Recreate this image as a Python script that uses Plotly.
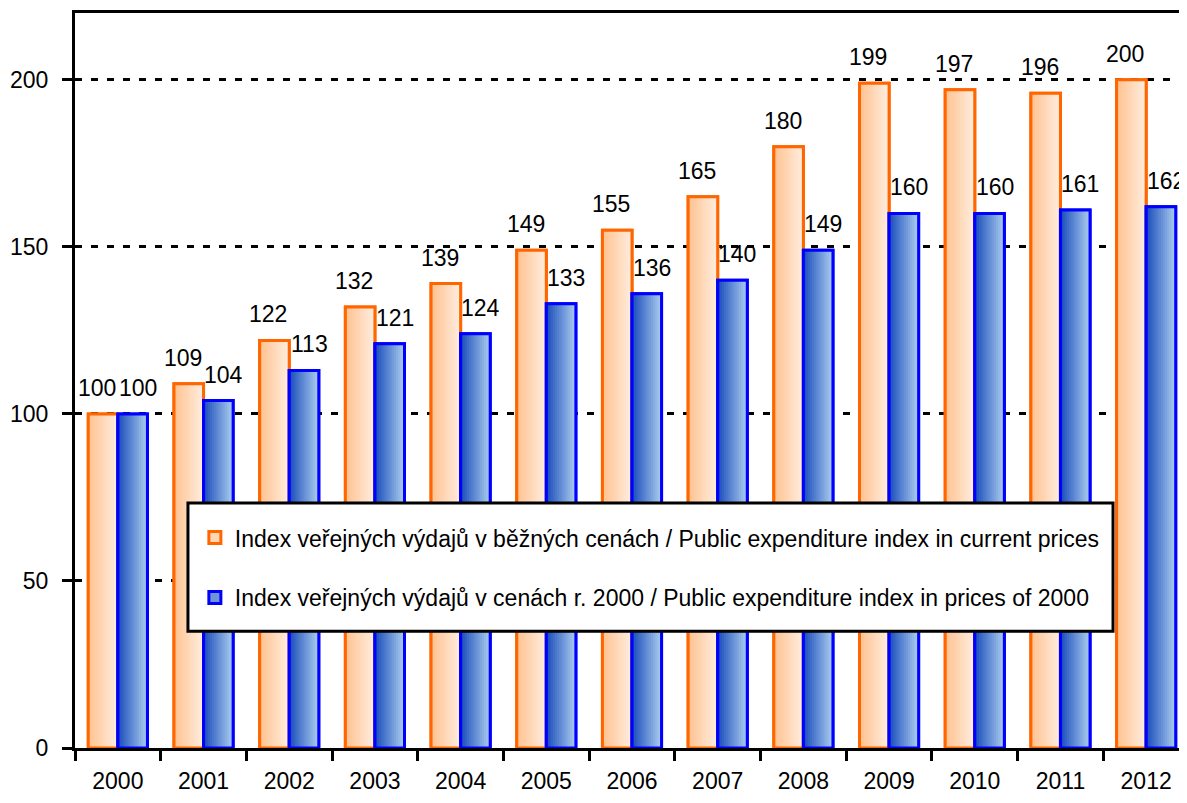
import plotly.graph_objects as go

years = ["2000", "2001", "2002", "2003", "2004", "2005", "2006",
         "2007", "2008", "2009", "2010", "2011", "2012"]
current_prices = [100, 109, 122, 132, 139, 149, 155, 165, 180, 199, 197, 196, 200]
prices_2000 = [100, 104, 113, 121, 124, 133, 136, 140, 149, 160, 160, 161, 162]

name_current = "Index veřejných výdajů v běžných cenách / Public expenditure index in current prices"
name_2000 = "Index veřejných výdajů v cenách r. 2000 / Public expenditure index in prices of 2000"

FONT = "Liberation Sans Narrow, Arial Narrow, Liberation Sans, Arial, sans-serif"

BAR_W = 0.345
N_SLICES = 14
CAT_PX = 1114 / 13


def lerp(c1, c2, t):
    return "rgb({},{},{})".format(*[round(a + (b - a) * t) for a, b in zip(c1, c2)])


series = [
    dict(name=name_current, values=current_prices, offset=-BAR_W,
         c_left=(255, 196, 146), c_right=(255, 236, 222), border="#FF6600",
         mid="#FFD7B5", group="a", label_shift=-6),
    dict(name=name_2000, values=prices_2000, offset=0.0,
         c_left=(30, 80, 188), c_right=(168, 202, 238), border="#0000FF",
         mid="#6E95D8", group="b", label_shift=5),
]

fig = go.Figure()

for s in series:
    fig.add_trace(go.Bar(
        x=years, y=s["values"], name=s["name"], width=BAR_W, offset=s["offset"],
        marker=dict(color=s["mid"], line=dict(color=s["border"], width=3)),
        legendgroup=s["group"], showlegend=True, hoverinfo="skip"))
    step = BAR_W / N_SLICES
    for i in range(N_SLICES):
        t = i / (N_SLICES - 1)
        w = min(step * 1.6, BAR_W - i * step)
        fig.add_trace(go.Bar(
            x=years, y=s["values"], width=w, offset=s["offset"] + i * step,
            marker=dict(color=lerp(s["c_left"], s["c_right"], t), line=dict(width=0)),
            legendgroup=s["group"], showlegend=False, hoverinfo="skip"))
    fig.add_trace(go.Bar(
        x=years, y=s["values"], width=BAR_W, offset=s["offset"],
        marker=dict(color="rgba(0,0,0,0)", line=dict(color=s["border"], width=3)),
        legendgroup=s["group"], showlegend=False, hoverinfo="skip"))

annotations = []
for s in series:
    for idx, v in enumerate(s["values"]):
        annotations.append(dict(
            x=idx, y=v, xref="x", yref="y", text=str(v), showarrow=False,
            yanchor="bottom", xanchor="center",
            xshift=(s["offset"] + BAR_W / 2) * CAT_PX + s["label_shift"],
            yshift=11, font=dict(family=FONT, size=23, color="black")))

fig.update_layout(
    width=1187, height=803,
    margin=dict(l=67, r=6, t=5, b=63, autoexpand=False),
    paper_bgcolor="white", plot_bgcolor="white",
    barmode="overlay",
    font=dict(family=FONT, size=23, color="black"),
    annotations=annotations,
    shapes=[dict(
        type="rect", xref="paper", yref="paper",
        x0=0.1014, x1=0.9318, y0=0.159, y1=0.3333,
        fillcolor="white", line=dict(color="black", width=3), layer="above")],
    showlegend=True,
    legend=dict(
        x=0.1076, y=0.3155, xanchor="left", yanchor="top",
        bgcolor="rgba(0,0,0,0)", borderwidth=0,
        font=dict(family=FONT, size=23, color="black"),
        tracegroupgap=27, traceorder="grouped",
    ),
    xaxis=dict(
        type="category", categoryorder="array", categoryarray=years,
        range=[-0.5, 12.5], automargin=False,
        showline=True, linecolor="black", linewidth=3, mirror=True,
        ticks="outside", tickson="boundaries", ticklen=10, tickwidth=3,
        tickcolor="black", showgrid=False,
        tickfont=dict(family=FONT, size=23, color="black"),
        ticklabelstandoff=10,
    ),
    yaxis=dict(
        range=[0, 220], tickvals=[0, 50, 100, 150, 200], automargin=False,
        showline=True, linecolor="black", linewidth=3,
        ticks="outside", ticklen=10, tickwidth=3, tickcolor="black",
        showgrid=True, gridcolor="black", gridwidth=3, griddash="7px,9px",
        zeroline=False,
        tickfont=dict(family=FONT, size=23, color="black"),
        ticklabelstandoff=9,
    ),
)

fig.write_html("out.html")
